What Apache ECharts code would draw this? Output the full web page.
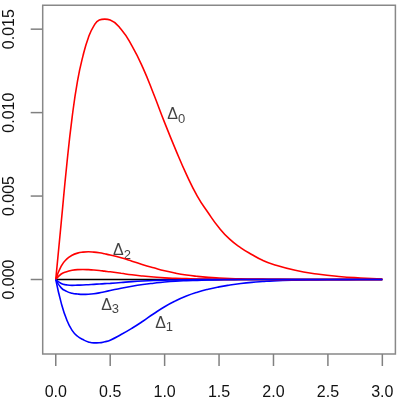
<!DOCTYPE html>
<html>
<head>
<meta charset="utf-8">
<script src="https://cdn.jsdelivr.net/npm/echarts@6/dist/echarts.min.js"></script>
<style>
  html, body { margin: 0; padding: 0; background: #fff; }
  #chart { width: 401px; height: 401px; }
</style>
</head>
<body>
<div id="chart"></div>
<script>
const xs = [0, 0.05, 0.1, 0.15, 0.2, 0.25, 0.3, 0.35, 0.4, 0.45, 0.5,
  0.6, 0.7, 0.8, 0.9, 1.0, 1.1, 1.2, 1.3, 1.4, 1.5, 1.6, 1.7, 1.8, 1.9, 2.0,
  2.2, 2.4, 2.6, 2.8, 3.0];

const delta0 = [0, 0.0034, 0.0068, 0.0097, 0.0119, 0.0134, 0.0145, 0.0152, 0.01555, 0.0156, 0.01555,
  0.0150, 0.0140, 0.0127, 0.0111, 0.0094, 0.0078, 0.0063, 0.0050, 0.0040, 0.0031, 0.0024, 0.0019, 0.0015, 0.00115, 0.0009,
  0.00055, 0.00033, 0.00018, 0.00009, 0.00003];
const delta1 = [0, -0.0014, -0.0024, -0.00305, -0.0034, -0.0036, -0.00374, -0.0038, -0.00379, -0.00373, -0.00364,
  -0.0033, -0.00292, -0.0025, -0.00205, -0.00163, -0.00128, -0.00099, -0.00076, -0.00058, -0.00044, -0.00033, -0.00024, -0.00017, -0.00012, -0.00008,
  -0.00004, -0.00002, -0.00001, 0, 0];
const delta2 = [0, 0.0008, 0.00122, 0.00145, 0.00158, 0.00164, 0.00166, 0.00164, 0.0016, 0.00154, 0.00147,
  0.0013, 0.0011, 0.00089, 0.0007, 0.00052, 0.00038, 0.00027, 0.00019, 0.00013, 0.00009, 0.00006, 0.00004, 0.00003, 0.00002, 0.00001,
  0, 0, 0, 0, 0];
const delta3 = [0, -0.0005, -0.00071, -0.00082, -0.00087, -0.00089, -0.00088, -0.00085, -0.0008, -0.00073, -0.00066,
  -0.00052, -0.0004, -0.0003, -0.00022, -0.00015, -0.0001, -0.00007, -0.00005, -0.00003, -0.00002, -0.00001, 0, 0, 0, 0,
  0, 0, 0, 0, 0];
const delta4 = [0, 0.00033, 0.00047, 0.00055, 0.00059, 0.0006, 0.00059, 0.00057, 0.00054, 0.0005, 0.00046,
  0.00037, 0.00028, 0.00021, 0.00015, 0.0001, 0.00007, 0.00005, 0.00003, 0.00002, 0.00001, 0.00001, 0, 0, 0, 0,
  0, 0, 0, 0, 0];
const delta5 = [0, -0.00024, -0.00032, -0.00035, -0.00034, -0.00033, -0.00031, -0.00029, -0.00027, -0.00025, -0.00023,
  -0.00018, -0.00013, -0.00009, -0.00006, -0.00004, -0.00003, -0.00002, -0.00001, -0.00001, 0, 0, 0, 0, 0, 0,
  0, 0, 0, 0, 0];
const baseline = new Array(xs.length).fill(0);

const xTicks = [0, 0.5, 1.0, 1.5, 2.0, 2.5, 3.0];
const yTicks = [0, 0.005, 0.010, 0.015];

// curve labels: subscript, x, y
const labelSubs = ['0', '2', '3', '1'];
const labelX = [1.097, 0.6, 0.49, 0.986];
const labelY = [0.00994, 0.00179, -0.00149, -0.00256];

const X_MIN = -0.12, X_MAX = 3.12;
const Y_MIN = -0.004464, Y_MAX = 0.01643;
const TICK = 12;
const FONT = '"Liberation Sans", Arial, Helvetica, sans-serif';
const pairs = (ys) => xs.map((x, i) => [x, ys[i]]);

const curve = (ys, color) => ({
  type: 'line',
  data: pairs(ys),
  smooth: 0.5,
  showSymbol: false,
  lineStyle: { color, width: 1.6 },
});

const chart = echarts.init(document.getElementById('chart'), null, { renderer: 'canvas' });
chart.setOption({
  animation: false,
  grid: {
    left: 42.7, right: 5.6, top: 5.3, bottom: 44.5,
    show: true, borderColor: '#888', borderWidth: 1.5, backgroundColor: 'transparent',
  },
  xAxis: {
    type: 'value', min: X_MIN, max: X_MAX,
    axisLine: { show: false, onZero: false },
    axisTick: { show: false },
    splitLine: { show: false },
    axisLabel: {
      customValues: xTicks, margin: 31, fontSize: 16, color: '#111', fontFamily: FONT,
      formatter: (v) => v.toFixed(1),
    },
  },
  yAxis: {
    type: 'value', min: Y_MIN, max: Y_MAX,
    axisLine: { show: false, onZero: false },
    axisTick: { show: false },
    splitLine: { show: false },
    axisLabel: {
      customValues: yTicks, margin: 25, rotate: 90, fontSize: 16, color: '#111', fontFamily: FONT,
      formatter: (v) => v.toFixed(3),
    },
  },
  series: [
    { type: 'line', data: pairs(baseline), showSymbol: false, lineStyle: { color: '#000', width: 1.6 } },
    curve(delta0, '#ff0000'),
    curve(delta1, '#0000ff'),
    curve(delta2, '#ff0000'),
    curve(delta3, '#0000ff'),
    curve(delta4, '#ff0000'),
    curve(delta5, '#0000ff'),
    {
      type: 'scatter',
      data: labelX.map((x, i) => ({ value: [x, labelY[i]], sub: labelSubs[i] })),
      symbolSize: 1,
      itemStyle: { color: 'transparent' },
      label: {
        show: true, position: 'inside', color: '#111', fontFamily: FONT, offset: [1, 1],
        formatter: (p) => '{d|Δ}{s|' + p.data.sub + '}',
        rich: {
          d: { fontSize: 16, lineHeight: 16, verticalAlign: 'top', fontFamily: FONT, color: '#111' },
          s: { fontSize: 13, lineHeight: 16, padding: [6, 0, 0, 0], verticalAlign: 'top', fontFamily: FONT, color: '#111' },
        },
      },
    },
  ],
});

// tick marks outside the box, positioned through the chart's own scales
const tickStyle = { stroke: '#808080', lineWidth: 1.5 };
const tickEls = [];
xTicks.forEach((v) => {
  const p = chart.convertToPixel({ gridIndex: 0 }, [v, Y_MIN]);
  tickEls.push({ type: 'line', silent: true, z: 100, shape: { x1: p[0], y1: p[1], x2: p[0], y2: p[1] + TICK }, style: tickStyle });
});
yTicks.forEach((v) => {
  const p = chart.convertToPixel({ gridIndex: 0 }, [X_MIN, v]);
  tickEls.push({ type: 'line', silent: true, z: 100, shape: { x1: p[0] - TICK, y1: p[1], x2: p[0], y2: p[1] }, style: tickStyle });
});
chart.setOption({ graphic: { elements: tickEls } });
</script>
</body>
</html>
